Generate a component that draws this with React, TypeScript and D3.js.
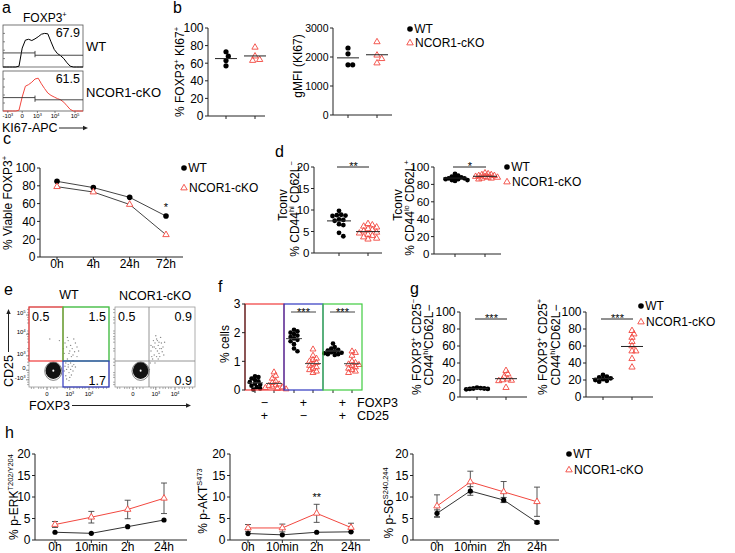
import React from "react";
import * as d3 from "d3";

const W = 735;
const H = 553;
const FONT = "'Liberation Sans', Arial, Helvetica, sans-serif";
const RED = "#f2473f";
const INK = "#222";
const BOX_RED = "#f03a3a";
const BOX_BLUE = "#3038c0";
const BOX_GREEN = "#40cc40";

// ================= DATA =================
const groupNames = ["WT", "NCOR1-cKO"];

// a: KI67 histograms (channel units 0-100, heights as fraction of box)
const histBins = [0, 4, 8, 12, 16, 20, 24, 28, 32, 36, 40, 44, 48, 52, 56, 60, 64, 68, 72, 76, 80, 84, 88, 92, 96, 100];
const histWT = [0, 0, 0, 0, 0, 0.02, 0.45, 0.64, 0.66, 0.63, 0.67, 0.72, 0.78, 0.8, 0.79, 0.6, 0.42, 0.32, 0.27, 0.2, 0.1, 0.02, 0, 0, 0, 0];
const histKO = [0, 0, 0, 0, 0, 0.02, 0.35, 0.62, 0.66, 0.72, 0.8, 0.82, 0.68, 0.56, 0.45, 0.39, 0.35, 0.31, 0.28, 0.22, 0.13, 0.04, 0, 0, 0, 0];
const histTicks = [6, 24, 43, 65, 90];
const histTickLabels = ["-10^3", "0", "10^3", "10^4", "10^5"];
const histPct = ["67.9", "61.5"];
const histGate = [40, 0.335, 0.28];

// b
const bKi67WT = [73, 68, 63, 57];
const bKi67KO = [78, 68, 64, 63];
const bMfiWT = [2310, 2110, 1730, 1730];
const bMfiKO = [2520, 2060, 1940, 1790];

// c
const cTimes = ["0h", "4h", "24h", "72h"];
const cWT = [85, 78, 67, 46];
const cKO = [79, 73, 59, 25];

// d
const dHiWT = [9.8, 8.9, 8.8, 8.7, 8.6, 7.8, 7.7, 7.5, 6.7, 6.5, 4.7, 3.9];
const dHiKO = [6.8, 6.5, 6.2, 6.0, 5.6, 5.4, 5.1, 4.8, 4.6, 4.3, 4.0, 3.7, 3.4, 3.2];
const dLoWT = [92, 90, 89, 88, 88, 87, 87, 86, 86, 85, 85, 84];
const dLoKO = [93, 92, 91, 91, 90, 90, 89, 89, 88, 88, 87, 87, 86];

// e: flow plots (channel units 0-100)
const eGate = [42.5, 32.5];
const eQuadWT = ["0.5", "1.5", "1.7"];
const eQuadKO = ["0.5", "0.9", "0.9"];
const eXTicks = [22.5, 51, 75];
const eXTickLabels = ["0", "10^3", "10^4"];
const eYTicks = [9, 21, 39, 66, 90];
const eYTickLabels = ["-10^3", "0", "10^3", "10^4", "10^5"];
const eMinor = [3, 6, 12, 15, 18, 27, 31, 35, 45, 48, 56, 60, 63, 67, 70, 80, 84, 87, 93, 97];
const eBlob = [[30.4, 20.4], [32, 20.4]];
const eDotsWT = [[45, 55], [47, 50], [49, 58], [51, 45], [52, 52], [54, 48], [55, 40], [53, 38], [50, 42], [48, 35], [46, 30], [49, 28], [52, 30], [55, 33], [57, 44], [58, 55], [56, 60], [60, 50], [47, 22], [50, 18], [53, 15], [46, 14], [49, 25], [52, 22], [55, 20], [44, 20], [47, 10], [51, 12], [58, 25], [60, 38], [44, 42], [43, 48], [56, 28], [62, 45], [48, 62], [26, 60], [38, 58], [50, 8], [45, 26], [54, 26]];
const eDotsKO = [[45, 45], [47, 50], [50, 55], [52, 60], [54, 52], [56, 48], [58, 55], [55, 42], [52, 38], [49, 40], [47, 35], [53, 45], [57, 62], [60, 50], [51, 48], [48, 58], [59, 44], [62, 56], [46, 38], [44, 30], [50, 30], [54, 35], [56, 38], [61, 40], [53, 58], [58, 48], [49, 50], [51, 64], [55, 56], [45, 52], [40, 25], [43, 22]];

// f
const fFoxp3 = ["−", "+", "+"];
const fCd25 = ["+", "−", "+"];
const fSig = ["", "***", "***"];
const fWT = [
  [0.48, 0.45, 0.4, 0.35, 0.3, 0.28, 0.22, 0.18, 0.15, 0.1, 0.05, 0.02],
  [2.1, 2.05, 2.0, 1.95, 1.9, 1.85, 1.8, 1.75, 1.7, 1.6, 1.45, 1.35],
  [1.62, 1.5, 1.45, 1.4, 1.38, 1.35, 1.32, 1.3, 1.28, 1.25, 1.25, 1.22],
];
const fKO = [
  [0.62, 0.5, 0.4, 0.3, 0.25, 0.2, 0.17, 0.15, 0.12, 0.1, 0.08, 0.05, 0.03],
  [1.42, 1.2, 1.1, 1.05, 1.0, 0.95, 0.9, 0.85, 0.8, 0.75, 0.7, 0.65, 0.6],
  [1.35, 1.3, 1.2, 1.0, 0.95, 0.9, 0.88, 0.85, 0.8, 0.75, 0.7, 0.65, 0.6],
];

// g
const gNegWT = [11, 10.5, 10, 10, 9.5, 9.5, 9];
const gNegKO = [31, 27, 24, 21, 20, 19.5, 19, 11];
const gPosWT = [26, 24, 23, 22, 21, 20, 19, 18];
const gPosKO = [78, 74, 70, 65, 60, 54, 54, 45, 35];

// h
const hTimes = ["0h", "10min", "2h", "24h"];
const hErkWT = [1.8, 1.55, 3.1, 4.65];
const hErkWTErr = [0, 0, 0, 0];
const hErkKO = [3.6, 5.3, 7.1, 9.7];
const hErkKOErr = [0.7, 1.35, 2.15, 3.55];
const hAktWT = [1.5, 1.2, 1.8, 1.9];
const hAktWTErr = [0, 0, 0, 0];
const hAktKO = [2.8, 2.8, 6.2, 2.9];
const hAktKOErr = [0.8, 0.9, 2.1, 1.0];
const hS6WT = [6.2, 11.4, 9.3, 4.1];
const hS6WTErr = [0.8, 1.0, 0.6, 0.3];
const hS6KO = [7.9, 13.5, 11.2, 8.9];
const hS6KOErr = [2.6, 2.5, 2.4, 3.4];

// ================= HELPERS =================
type Seg = string | { sup: string };

function Rich({ segs, size }: { segs: Seg[]; size: number }) {
  let shifted = false;
  return (
    <>
      {segs.map((s, i) => {
        if (typeof s === "string") {
          const dy = shifted ? size * 0.38 : 0;
          shifted = false;
          return (
            <tspan key={i} dy={dy} fontSize={size}>
              {s}
            </tspan>
          );
        }
        const dy = shifted ? 0 : -size * 0.38;
        shifted = true;
        return (
          <tspan key={i} dy={dy} fontSize={size * 0.62}>
            {s.sup}
          </tspan>
        );
      })}
    </>
  );
}

function expSegs(label: string): Seg[] {
  const p = label.split("^");
  return p.length > 1 ? [p[0], { sup: p[1] }] : [p[0]];
}

function YLabel({ x, y, segs, size = 12 }: any) {
  return (
    <text transform={`translate(${x},${y}) rotate(-90)`} textAnchor="middle" fontSize={size}>
      <Rich segs={segs} size={size} />
    </text>
  );
}

function YAxis({ x, scale, ticks, size = 12 }: any) {
  const [b, t] = scale.range();
  return (
    <g>
      <line x1={x} x2={x} y1={b} y2={t} stroke={INK} />
      {ticks.map((v: number) => (
        <g key={v}>
          <line x1={x - 3} x2={x} y1={scale(v)} y2={scale(v)} stroke={INK} />
          <text x={x - 4.5} y={scale(v)} dy="0.36em" textAnchor="end" fontSize={size}>
            {String(v)}
          </text>
        </g>
      ))}
    </g>
  );
}

function XBase({ x0, x1, y, ticks }: any) {
  return (
    <g>
      <line x1={x0} x2={x1} y1={y} y2={y} stroke={INK} />
      {ticks.map((t: number, i: number) => (
        <line key={i} x1={t} x2={t} y1={y} y2={y + 3} stroke={INK} />
      ))}
    </g>
  );
}

function Tri({ x, y, fill = "none", size = 17 }: any) {
  const d = d3.symbol(d3.symbolTriangle, size)() as string;
  return <path d={d} transform={`translate(${x},${y})`} fill={fill} stroke={RED} strokeWidth={0.9} />;
}

function Arrow({ x1, y1, x2, y2 }: any) {
  const a = Math.atan2(y2 - y1, x2 - x1);
  const L = 5;
  const w = 2.2;
  const bx = x2 - L * Math.cos(a);
  const by = y2 - L * Math.sin(a);
  const p = `M${x2},${y2}L${bx + w * Math.sin(a)},${by - w * Math.cos(a)}L${bx - w * Math.sin(a)},${by + w * Math.cos(a)}Z`;
  return (
    <g>
      <line x1={x1} y1={y1} x2={bx} y2={by} stroke={INK} />
      <path d={p} fill={INK} />
    </g>
  );
}

function swarm(vals: number[], y: (v: number) => number, r: number, pack = 1.8) {
  const placed: { x: number; y: number }[] = [];
  const order = vals.map((_, i) => i).sort((a, b) => vals[b] - vals[a]);
  const res: { dx: number; y: number }[] = new Array(vals.length);
  const minD = pack * r;
  const step = minD / 2;
  for (const i of order) {
    const py = y(vals[i]);
    let k = 0;
    for (;;) {
      const off = k === 0 ? 0 : (k % 2 ? 1 : -1) * Math.ceil(k / 2) * step;
      if (placed.every((p) => Math.hypot(p.x - off, p.y - py) >= minD) || k > 40) {
        placed.push({ x: off, y: py });
        res[i] = { dx: off, y: py };
        break;
      }
      k++;
    }
  }
  return res;
}

function Legend({ x, y, gap }: any) {
  return (
    <g fontSize={12}>
      <circle cx={x} cy={y} r={2.8} fill="#000" />
      <text x={x + 4.3} y={y + 4.3}>
        {groupNames[0]}
      </text>
      <Tri x={x} y={y + gap} fill="white" size={18} />
      <text x={x + 5} y={y + gap + 4.3}>
        {groupNames[1]}
      </text>
    </g>
  );
}

function DotPlot({ ax, top, bottom, right, cx, domain, ticks, wt, ko, sig, sigY, r = 2.4, half = 10, pack = 1.8, tickSize = 12 }: any) {
  const y = d3.scaleLinear(domain, [bottom, top]);
  const sw = swarm(wt, y, r, pack);
  const sk = swarm(ko, y, r, pack);
  const m = [d3.mean(wt) as number, d3.mean(ko) as number];
  return (
    <g>
      <YAxis x={ax} scale={y} ticks={ticks} size={tickSize} />
      <XBase x0={ax} x1={right} y={bottom} ticks={cx} />
      {sig ? (
        <g>
          <line x1={cx[0] - 2} x2={cx[1] + 1} y1={sigY} y2={sigY} stroke={INK} />
          <text x={(cx[0] + cx[1]) / 2} y={sigY + 3} textAnchor="middle" fontSize={11}>
            {sig}
          </text>
        </g>
      ) : null}
      {sw.map((p, i) => (
        <circle key={"w" + i} cx={cx[0] + p.dx} cy={p.y} r={r} fill="#000" />
      ))}
      {sk.map((p, i) => (
        <Tri key={"k" + i} x={cx[1] + p.dx} y={p.y} />
      ))}
      <line x1={cx[0] - half} x2={cx[0] + half} y1={y(m[0])} y2={y(m[0])} stroke={INK} />
      <line x1={cx[1] - half} x2={cx[1] + half} y1={y(m[1])} y2={y(m[1])} stroke={INK} />
    </g>
  );
}

// ================= PANELS =================
function PanelA() {
  const sx = d3.scaleLinear([0, 100], [3, 83]);
  const boxes = [
    { top: 25, bottom: 67, data: histWT, color: "#000" },
    { top: 71, bottom: 111, data: histKO, color: RED },
  ];
  return (
    <g>
      <text x={2} y={13} fontSize={16}>a</text>
      <text x={23} y={22} fontSize={12}>
        <Rich segs={["FOXP3", { sup: "+" }]} size={12} />
      </text>
      {boxes.map((b, i) => {
        const sy = d3.scaleLinear([0, 1], [b.bottom, b.top]);
        const line = d3
          .line<number>()
          .x((_, j) => sx(histBins[j]))
          .y((d) => sy(d));
        return (
          <g key={i}>
            <rect x={3} y={b.top} width={80} height={b.bottom - b.top} fill="none" stroke="#555" strokeWidth={0.8} />
            {[0.2, 0.4, 0.6, 0.8].map((f) => (
              <line key={f} x1={3} x2={5} y1={sy(f)} y2={sy(f)} stroke="#555" strokeWidth={0.7} />
            ))}
            <path d={line(b.data) as string} fill="none" stroke={b.color} strokeWidth={1} />
            <line x1={sx(0)} x2={sx(histGate[0])} y1={sy(histGate[1])} y2={sy(histGate[1])} stroke="#333" strokeWidth={0.9} />
            <line x1={sx(histGate[0])} x2={sx(histGate[0])} y1={sy(histGate[1]) - 2} y2={sy(histGate[2]) + 2} stroke="#333" strokeWidth={0.9} />
            <line x1={sx(histGate[0])} x2={sx(100)} y1={sy(histGate[2])} y2={sy(histGate[2])} stroke="#333" strokeWidth={0.9} />
            <text x={80} y={b.top + 12} textAnchor="end" fontSize={12.5}>
              {histPct[i]}
            </text>
            <text x={86} y={b.top + 25.5} fontSize={13}>
              {groupNames[i]}
            </text>
          </g>
        );
      })}
      {histTicks.map((t, i) => (
        <g key={i}>
          <line x1={sx(t)} x2={sx(t)} y1={111} y2={113} stroke="#555" strokeWidth={0.7} />
          <text x={sx(t)} y={118} textAnchor="middle" fontSize={6}>
            <Rich segs={expSegs(histTickLabels[i])} size={6} />
          </text>
        </g>
      ))}
      <text x={2} y={132} fontSize={12.5}>KI67-APC</text>
      <Arrow x1={59} y1={128} x2={88} y2={128} />
    </g>
  );
}

function PanelB() {
  return (
    <g>
      <text x={173} y={13} fontSize={16}>b</text>
      <YLabel x={184} y={72} segs={["% FOXP3", { sup: "+" }, " KI67", { sup: "+" }]} />
      <DotPlot ax={208} top={28} bottom={116} right={265} cx={[226, 255]} domain={[0, 100]} ticks={[0, 20, 40, 60, 80, 100]} wt={bKi67WT} ko={bKi67KO} r={2.6} half={11} />
      <YLabel x={302} y={66} segs={["gMFI (KI67)"]} />
      <DotPlot ax={333} top={28} bottom={115} right={392} cx={[348, 377]} domain={[0, 3000]} ticks={[0, 1000, 2000, 3000]} wt={bMfiWT} ko={bMfiKO} r={2.6} half={11} tickSize={10.5} />
      <Legend x={410} y={29} gap={14} />
    </g>
  );
}

function PanelC() {
  const x = d3.scalePoint(cTimes, [57, 166]);
  const y = d3.scaleLinear([0, 100], [257, 168]);
  const line = d3
    .line<number>()
    .x((_, i) => x(cTimes[i]) as number)
    .y((d) => y(d));
  return (
    <g>
      <text x={3} y={144} fontSize={16}>c</text>
      <YLabel x={11.5} y={203} segs={["% Viable FOXP3", { sup: "+" }]} />
      <YAxis x={40} scale={y} ticks={[0, 20, 40, 60, 80, 100]} />
      <XBase x0={40} x1={183} y={257} ticks={cTimes.map((t) => x(t))} />
      {cTimes.map((t) => (
        <text key={t} x={x(t)} y={268} textAnchor="middle" fontSize={12}>
          {t}
        </text>
      ))}
      <path d={line(cWT) as string} fill="none" stroke="#444" />
      <path d={line(cKO) as string} fill="none" stroke="#444" />
      {cWT.map((v, i) => (
        <circle key={"w" + i} cx={x(cTimes[i])} cy={y(v)} r={2.8} fill="#000" />
      ))}
      {cKO.map((v, i) => (
        <Tri key={"k" + i} x={x(cTimes[i])} y={y(v)} fill="white" size={18} />
      ))}
      <text x={x(cTimes[3])} y={y(cWT[3]) - 5} textAnchor="middle" fontSize={11}>*</text>
      <Legend x={184} y={168} gap={20} />
    </g>
  );
}

function PanelD() {
  return (
    <g>
      <text x={275} y={157} fontSize={16}>d</text>
      <YLabel x={287} y={205} segs={["Tconv"]} />
      <YLabel x={299} y={209} segs={["% CD44", { sup: "hi" }, " CD62L", { sup: "−" }]} />
      <DotPlot ax={314} top={167} bottom={253} right={382} cx={[339, 368]} domain={[0, 20]} ticks={[0, 5, 10, 15, 20]} wt={dHiWT} ko={dHiKO} sig="**" sigY={167} r={2.4} half={12} tickSize={11.5} />
      <YLabel x={402} y={205} segs={["Tconv"]} />
      <YLabel x={414} y={208} segs={["% CD44", { sup: "lo" }, " CD62L", { sup: "+" }]} />
      <DotPlot ax={434} top={167} bottom={254} right={501} cx={[455, 485]} domain={[0, 100]} ticks={[0, 20, 40, 60, 80, 100]} wt={dLoWT} ko={dLoKO} sig="*" sigY={167} r={2.4} half={12} pack={1.3} tickSize={11.5} />
      <Legend x={507} y={167} gap={15} />
    </g>
  );
}

function FlowPlot({ x0, colored, nums, dots, blob, yLabels }: any) {
  const sx = d3.scaleLinear([0, 100], [x0, x0 + 80]);
  const sy = d3.scaleLinear([0, 100], [387, 307]);
  const gx = sx(eGate[0]);
  const gy = sy(eGate[1]);
  const bx = sx(blob[0]);
  const by = sy(blob[1]);
  return (
    <g>
      <rect x={x0} y={307} width={80} height={80} fill="none" stroke="#999" strokeWidth={0.8} />
      {!colored && (
        <g>
          <line x1={gx} x2={gx} y1={307} y2={387} stroke="#888" strokeWidth={0.9} />
          <line x1={x0} x2={x0 + 80} y1={gy} y2={gy} stroke="#888" strokeWidth={0.9} />
        </g>
      )}
      {eMinor.map((m) => (
        <g key={m}>
          <line x1={sx(m)} x2={sx(m)} y1={387} y2={389} stroke="#777" strokeWidth={0.6} />
          <line x1={x0 - 2} x2={x0} y1={sy(m)} y2={sy(m)} stroke="#777" strokeWidth={0.6} />
        </g>
      ))}
      {dots.map((p: number[], i: number) => (
        <circle key={i} cx={sx(p[0])} cy={sy(p[1])} r={0.7} fill="#8a8a8a" />
      ))}
      <ellipse cx={bx} cy={by + 0.5} rx={8.6} ry={9.2} fill="none" stroke="#333" strokeWidth={0.6} />
      <ellipse cx={bx} cy={by} rx={7.8} ry={8.4} fill="#111" />
      <ellipse cx={bx} cy={by} rx={1} ry={1.1} fill="#fff" />
      {colored && (
        <g fill="none" strokeWidth={1.2}>
          <rect x={x0} y={307} width={gx - x0} height={gy - 307} stroke={BOX_RED} />
          <rect x={gx} y={307} width={x0 + 80 - gx} height={gy - 307} stroke={BOX_GREEN} />
          <rect x={gx} y={gy} width={x0 + 80 - gx} height={387 - gy} stroke={BOX_BLUE} />
        </g>
      )}
      <g fontSize={12.5}>
        <text x={x0 + 3} y={321}>{nums[0]}</text>
        <text x={x0 + 77} y={321} textAnchor="end">{nums[1]}</text>
        <text x={x0 + 77} y={385} textAnchor="end">{nums[2]}</text>
      </g>
      {eXTicks.map((t, i) => (
        <g key={i}>
          <line x1={sx(t)} x2={sx(t)} y1={387} y2={390} stroke="#555" strokeWidth={0.7} />
          <text x={sx(t)} y={396} textAnchor="middle" fontSize={6}>
            <Rich segs={expSegs(eXTickLabels[i])} size={6} />
          </text>
        </g>
      ))}
      {yLabels &&
        eYTicks.map((t, i) => (
          <g key={i}>
            <line x1={x0 - 3} x2={x0} y1={sy(t)} y2={sy(t)} stroke="#555" strokeWidth={0.7} />
            <text x={x0 - 3.5} y={sy(t)} dy="0.35em" textAnchor="end" fontSize={6}>
              <Rich segs={expSegs(eYTickLabels[i])} size={6} />
            </text>
          </g>
        ))}
    </g>
  );
}

function PanelE() {
  return (
    <g>
      <text x={4} y={295} fontSize={16}>e</text>
      <text x={69} y={299} textAnchor="middle" fontSize={12.5}>{groupNames[0]}</text>
      <text x={155} y={300} textAnchor="middle" fontSize={12.5}>{groupNames[1]}</text>
      <FlowPlot x0={29} colored={true} nums={eQuadWT} dots={eDotsWT} blob={eBlob[0]} yLabels={true} />
      <FlowPlot x0={115} colored={false} nums={eQuadKO} dots={eDotsKO} blob={eBlob[1]} yLabels={false} />
      <text transform="translate(13,371) rotate(-90)" textAnchor="middle" fontSize={12.5}>CD25</text>
      <Arrow x1={8.5} y1={352} x2={8.5} y2={309} />
      <text x={29} y={410} fontSize={12.5}>FOXP3</text>
      <Arrow x1={72} y1={405.5} x2={191} y2={405.5} />
    </g>
  );
}

function PanelF() {
  const y = d3.scaleLinear([0, 3], [390, 304]);
  const keys = fFoxp3.map((f, i) => f + fCd25[i] + i);
  const band = d3.scaleBand(keys, [245, 362]);
  const colors = [BOX_RED, BOX_BLUE, BOX_GREEN];
  const r = 2.3;
  return (
    <g>
      <text x={218} y={292} fontSize={16}>f</text>
      <YLabel x={229} y={344} segs={["% cells"]} />
      {keys.map((k, gi) => {
        const b0 = band(k) as number;
        const bw = band.bandwidth();
        const cW = b0 + 10;
        const cK = b0 + 29;
        const sw = swarm(fWT[gi], y, r, 1.5);
        const sk = swarm(fKO[gi], y, r, 1.5);
        const mW = d3.mean(fWT[gi]) as number;
        const mK = d3.mean(fKO[gi]) as number;
        return (
          <g key={k}>
            <line x1={cW} x2={cW} y1={390} y2={393} stroke={INK} />
            <line x1={cK} x2={cK} y1={390} y2={393} stroke={INK} />
            {sw.map((p, i) => (
              <circle key={"w" + i} cx={cW + p.dx} cy={p.y} r={r} fill="#000" />
            ))}
            {sk.map((p, i) => (
              <Tri key={"k" + i} x={cK + p.dx} y={p.y} size={15} />
            ))}
            <line x1={cW - 8} x2={cW + 8} y1={y(mW)} y2={y(mW)} stroke="#444" />
            <line x1={cK - 8} x2={cK + 8} y1={y(mK)} y2={y(mK)} stroke="#444" />
            {fSig[gi] ? (
              <g>
                <line x1={cW - 3} x2={cK + 3} y1={312} y2={312} stroke="#444" />
                <text x={(cW + cK) / 2} y={315.5} textAnchor="middle" fontSize={11}>
                  {fSig[gi]}
                </text>
              </g>
            ) : null}
            <rect x={b0} y={304} width={bw} height={86} fill="none" stroke={colors[gi]} strokeWidth={1.2} />
            <text x={b0 + bw / 2} y={407} textAnchor="middle" fontSize={12.5}>{fFoxp3[gi]}</text>
            <text x={b0 + bw / 2} y={420} textAnchor="middle" fontSize={12.5}>{fCd25[gi]}</text>
          </g>
        );
      })}
      <YAxis x={245} scale={y} ticks={[0, 1, 2, 3]} />
      <text x={357} y={407} fontSize={12.5}>FOXP3</text>
      <text x={357} y={420} fontSize={12.5}>CD25</text>
    </g>
  );
}

function PanelG() {
  return (
    <g>
      <text x={410} y={294} fontSize={16}>g</text>
      <YLabel x={421} y={347} segs={["% FOXP3", { sup: "+" }, " CD25", { sup: "−" }]} />
      <YLabel x={433} y={345} segs={["CD44", { sup: "hi" }, "CD62L−"]} />
      <DotPlot ax={460} top={312} bottom={397} right={527} cx={[477, 506]} domain={[0, 100]} ticks={[0, 20, 40, 60, 80, 100]} wt={gNegWT} ko={gNegKO} sig="***" sigY={319} r={2.4} half={11} pack={1.5} />
      <YLabel x={547} y={347} segs={["% FOXP3", { sup: "+" }, " CD25", { sup: "+" }]} />
      <YLabel x={560} y={345} segs={["CD44", { sup: "hi" }, "CD62L−"]} />
      <DotPlot ax={586} top={312} bottom={397} right={653} cx={[603, 632]} domain={[0, 100]} ticks={[0, 20, 40, 60, 80, 100]} wt={gPosWT} ko={gPosKO} sig="***" sigY={319} r={2.4} half={11} pack={1.6} />
      <Legend x={641} y={306} gap={16} />
    </g>
  );
}

function LineErr({ ax, right, c0, c1, wt, wtErr, ko, koErr, label, lx, ly, sigIdx, sig }: any) {
  const x = d3.scalePoint(hTimes, [c0, c1]);
  const y = d3.scaleLinear([0, 20], [540, 454]);
  const line = d3
    .line<number>()
    .x((_, i) => x(hTimes[i]) as number)
    .y((d) => y(d));
  const errBars = (vals: number[], errs: number[], color: string) =>
    vals.map((v, i) =>
      errs[i] > 0 ? (
        <g key={i} stroke={color} strokeWidth={0.9}>
          <line x1={x(hTimes[i])} x2={x(hTimes[i])} y1={y(v - errs[i])} y2={y(v + errs[i])} />
          <line x1={(x(hTimes[i]) as number) - 3} x2={(x(hTimes[i]) as number) + 3} y1={y(v + errs[i])} y2={y(v + errs[i])} />
          <line x1={(x(hTimes[i]) as number) - 3} x2={(x(hTimes[i]) as number) + 3} y1={y(v - errs[i])} y2={y(v - errs[i])} />
        </g>
      ) : null
    );
  return (
    <g>
      <YLabel x={lx} y={ly} segs={label} />
      <YAxis x={ax} scale={y} ticks={[0, 5, 10, 15, 20]} />
      <XBase x0={ax} x1={right} y={540} ticks={hTimes.map((t) => x(t))} />
      {hTimes.map((t) => (
        <text key={t} x={x(t)} y={551} textAnchor="middle" fontSize={12}>
          {t}
        </text>
      ))}
      {errBars(wt, wtErr, "#333")}
      {errBars(ko, koErr, "#444")}
      <path d={line(wt) as string} fill="none" stroke="#333" />
      <path d={line(ko) as string} fill="none" stroke={RED} />
      {wt.map((v: number, i: number) => (
        <circle key={"w" + i} cx={x(hTimes[i])} cy={y(v)} r={2.6} fill="#000" />
      ))}
      {ko.map((v: number, i: number) => (
        <Tri key={"k" + i} x={x(hTimes[i])} y={y(v)} fill="white" size={18} />
      ))}
      {sig ? (
        <text x={x(hTimes[sigIdx])} y={y(ko[sigIdx] + koErr[sigIdx]) - 3} textAnchor="middle" fontSize={11}>
          {sig}
        </text>
      ) : null}
    </g>
  );
}

function PanelH() {
  return (
    <g>
      <text x={5} y={438} fontSize={16}>h</text>
      <LineErr ax={35} right={187} c0={55} c1={164} wt={hErkWT} wtErr={hErkWTErr} ko={hErkKO} koErr={hErkKOErr} label={["% p-ERK", { sup: "T202/Y204" }]} lx={18} ly={497} />
      <LineErr ax={230} right={370} c0={248} c1={351} wt={hAktWT} wtErr={hAktWTErr} ko={hAktKO} koErr={hAktKOErr} label={["% p-AKT", { sup: "S473" }]} lx={207} ly={501} sigIdx={2} sig="**" />
      <LineErr ax={413} right={559} c0={437} c1={537} wt={hS6WT} wtErr={hS6WTErr} ko={hS6KO} koErr={hS6KOErr} label={["% p-S6", { sup: "S240,244" }]} lx={393} ly={503} />
      <Legend x={569} y={454} gap={16} />
    </g>
  );
}

export default function App() {
  return (
    <svg width={W} height={H} style={{ position: "absolute", left: 0, top: 0, display: "block" }} fontFamily={FONT}>
      <rect width={W} height={H} fill="#fff" />
      <PanelA />
      <PanelB />
      <PanelC />
      <PanelD />
      <PanelE />
      <PanelF />
      <PanelG />
      <PanelH />
    </svg>
  );
}
